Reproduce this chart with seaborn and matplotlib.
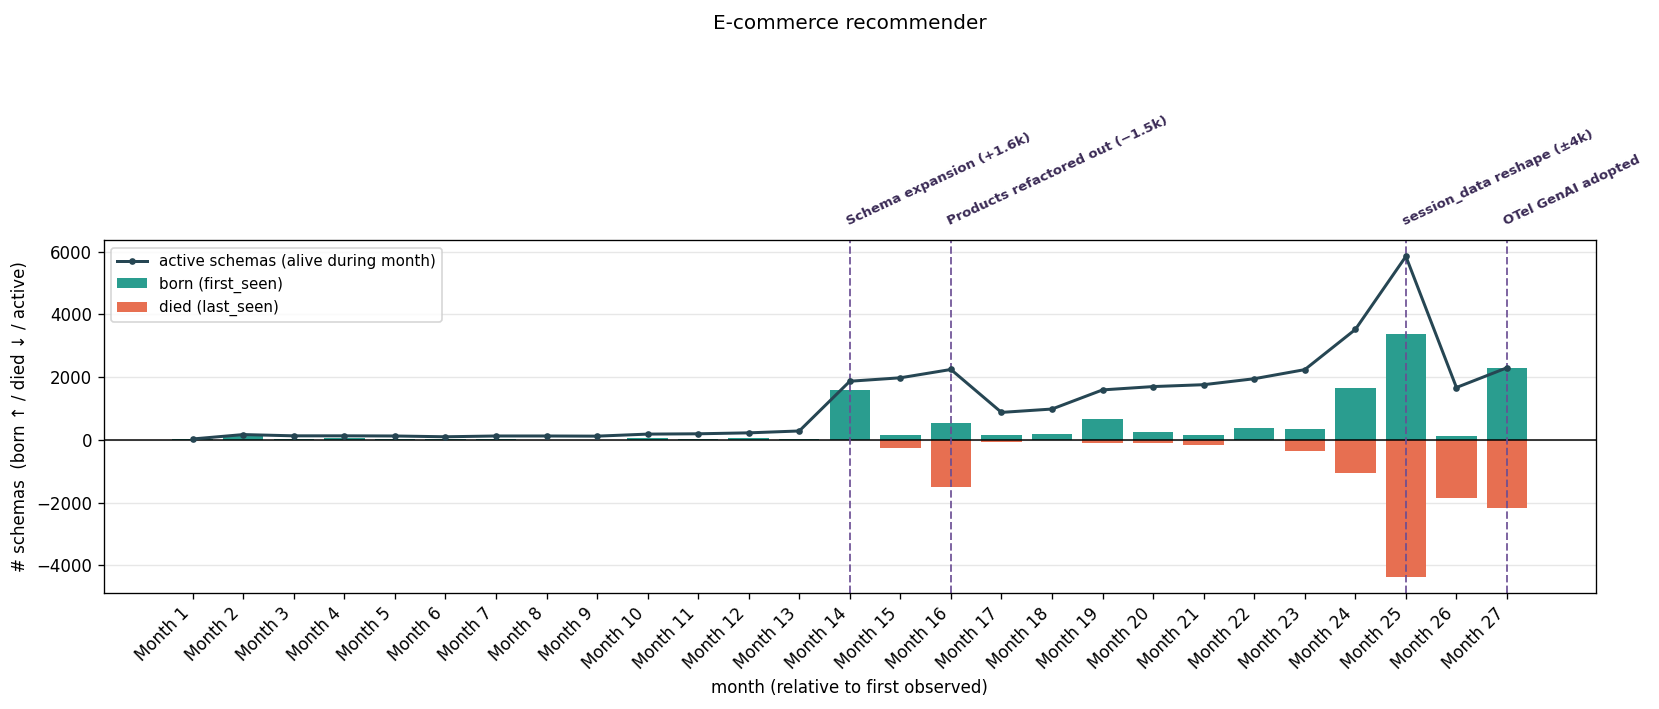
import numpy as np
import matplotlib
matplotlib.use("Agg")
import matplotlib.pyplot as plt
import seaborn as sns

months = [f"Month {i}" for i in range(1, 28)]
born = [20, 150, 30, 50, 30, 30, 30, 10, 10, 55, 30, 55, 40,
        1600, 160, 545, 160, 190, 670, 257, 160, 390, 355, 1670, 3390, 135, 2305]
died = [0, 0, 0, 0, 0, 0, 0, 0, 0, 0, 0, 0, 0,
        0, 246, 1490, 53, 10, 86, 86, 150, 0, 340, 1065, 4360, 1865, 2185]
active = [30, 170, 130, 130, 125, 100, 125, 125, 120, 185, 195, 225, 285,
          1870, 1980, 2245, 877, 984, 1594, 1700, 1760, 1950, 2240, 3520, 5850, 1670, 2300]

event_months = ["Month 14", "Month 16", "Month 25", "Month 27"]
event_labels = ["Schema expansion (+1.6k)", "Products refactored out (\u22121.5k)",
                "session_data reshape (\u00b14k)", "OTel GenAI adopted"]

C_BORN = "#2a9d8f"
C_DIED = "#e76f51"
C_LINE = "#264653"
C_EVENT = "#6a4c93"

x = np.arange(len(months))

fig, ax = plt.subplots(figsize=(1659 / 120, 709 / 120), dpi=120)
fig.subplots_adjust(left=0.0625, right=0.962, top=0.661, bottom=0.164)

sns.barplot(x=x, y=born, color=C_BORN, saturation=1, width=0.8,
            label="born (first_seen)", ax=ax)
sns.barplot(x=x, y=-np.array(died), color=C_DIED, saturation=1, width=0.8,
            label="died (last_seen)", ax=ax)
ax.plot(x, active, color=C_LINE, lw=1.8, marker="o", markersize=3,
        label="active schemas (alive during month)", zorder=4)

ax.axhline(0, color="black", lw=0.9)
ax.grid(axis="y", alpha=0.3)
ax.set_axisbelow(True)

# event markers with rotated labels above the axes
for m, lab in zip(event_months, event_labels):
    xi = months.index(m)
    ax.axvline(xi, color=C_EVENT, ls="--", lw=1.2, alpha=0.85)
    ax.text(xi, 1.035, lab, transform=ax.get_xaxis_transform(), rotation=25,
            rotation_mode="anchor", ha="left", va="bottom", fontsize=8,
            fontweight="bold", color="#3a2a55")

ax.set_xticks(x)
ax.set_xticklabels(months, rotation=45, ha="right")
ax.set_xlim(-1.76, len(months) + 0.76)
ax.margins(y=0.05)
ax.set_xlabel("month (relative to first observed)")
ax.set_ylabel("# schemas  (born \u2191 / died \u2193 / active)")
ax.set_title("E-commerce recommender", fontsize=12, y=1.57)
ax.legend(loc="upper left", fontsize=9)

fig.savefig("out.png")
